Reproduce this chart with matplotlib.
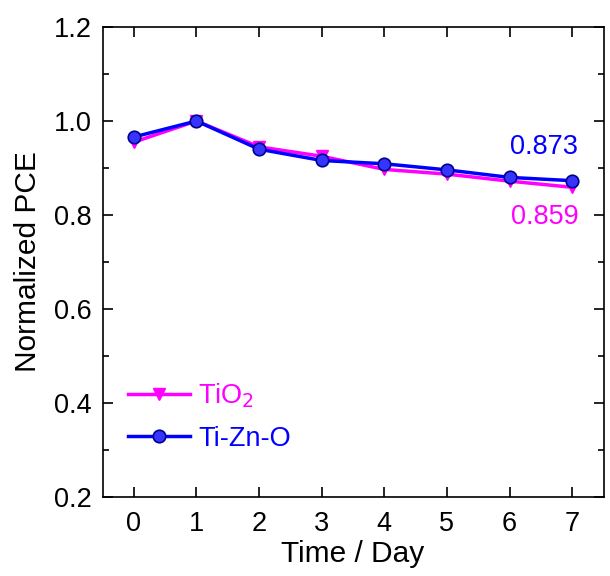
import numpy as np
import matplotlib.pyplot as plt
from matplotlib.ticker import MultipleLocator

plt.rcParams['font.family'] = ['Liberation Sans', 'DejaVu Sans']

days = [0, 1, 2, 3, 4, 5, 6, 7]
tio2 = [0.955, 1.0, 0.945, 0.925, 0.897, 0.887, 0.872, 0.859]
tizno = [0.966, 1.0, 0.940, 0.916, 0.909, 0.896, 0.880, 0.873]

MAGENTA = '#ff00ff'
BLUE = '#0000ff'

fig = plt.figure(figsize=(6.1, 5.76), dpi=100)
ax = fig.add_axes([102.5 / 610, 1 - 497 / 576, 501 / 610, 470 / 576])

ax.plot(days, tio2, color=MAGENTA, lw=2.5, marker='v', ms=9,
        mfc=MAGENTA, mec=MAGENTA, label='TiO$_2$')
ax.plot(days, tizno, color=BLUE, lw=2.5, marker='o', ms=9,
        mfc='#3535ff', mec='#00008c', mew=1.2, label='Ti-Zn-O')

ax.text(7.1, 0.944, '0.873', color=BLUE, fontsize=19.5, ha='right', va='center')
ax.text(7.1, 0.796, '0.859', color=MAGENTA, fontsize=19.5, ha='right', va='center')

ax.set_xlim(-0.5, 7.5)
ax.set_ylim(0.2, 1.2)
ax.xaxis.set_major_locator(MultipleLocator(1))
ax.yaxis.set_major_locator(MultipleLocator(0.2))
ax.yaxis.set_minor_locator(MultipleLocator(0.1))
ax.yaxis.set_major_formatter(plt.FormatStrFormatter('%.1f'))
ax.tick_params(which='both', direction='in', top=True, right=True,
               labelsize=19.5, width=1.2)
ax.tick_params(which='major', length=7.5)
ax.tick_params(which='minor', length=4)
ax.tick_params(axis='x', which='minor', bottom=False, top=False)
ax.tick_params(axis='x', pad=10)
ax.tick_params(axis='y', pad=8)
for s in ax.spines.values():
    s.set_linewidth(1.2)

ax.set_xlabel('Time / Day', fontsize=21.5, labelpad=2)
ax.set_ylabel('Normalized PCE', fontsize=21.5, labelpad=8)

leg = ax.legend(loc='lower left', bbox_to_anchor=(0.018, 0.062), frameon=False,
                fontsize=19.5, handlelength=2.3, handletextpad=0.3,
                labelspacing=0.57, borderaxespad=0.2)
for txt, c in zip(leg.get_texts(), [MAGENTA, BLUE]):
    txt.set_color(c)

fig.savefig('out.png', dpi=100)
